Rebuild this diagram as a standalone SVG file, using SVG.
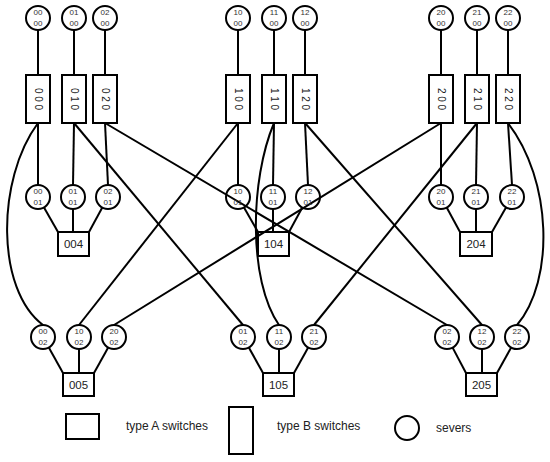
<svg xmlns="http://www.w3.org/2000/svg" width="550" height="462" viewBox="0 0 550 462">
<style>
.srv{fill:none;stroke:#000;stroke-width:2}
.sw{fill:#fff;stroke:#000;stroke-width:2}
.c{fill:none;stroke:#000;stroke-width:2}
.st{font-family:"Liberation Sans",Arial,sans-serif;font-size:8px;fill:#333;text-anchor:middle}
.bt{font-family:"Liberation Sans",Arial,sans-serif;font-size:10px;fill:#222;text-anchor:middle}
.at{font-family:"Liberation Sans",Arial,sans-serif;font-size:11.5px;fill:#222;text-anchor:middle}
.lt{font-family:"Liberation Sans",Arial,sans-serif;font-size:12px;fill:#222}
</style>
<rect width="550" height="462" fill="#fff"/>
<g id="connectors" class="c">
<!-- top servers to B switches -->
<line x1="38" y1="30" x2="38" y2="75"/>
<line x1="74" y1="30" x2="74" y2="75"/>
<line x1="105" y1="30" x2="105" y2="75"/>
<line x1="238" y1="30" x2="238" y2="75"/>
<line x1="274" y1="30" x2="274" y2="75"/>
<line x1="305" y1="30" x2="305" y2="75"/>
<line x1="441" y1="30" x2="441" y2="75"/>
<line x1="477" y1="30" x2="477" y2="75"/>
<line x1="508" y1="30" x2="508" y2="75"/>
<!-- B switches to mid servers -->
<line x1="38" y1="123" x2="38" y2="185"/>
<line x1="74" y1="123" x2="73" y2="185"/>
<line x1="105" y1="123" x2="108" y2="185"/>
<line x1="238" y1="123" x2="238" y2="185"/>
<line x1="274" y1="123" x2="273" y2="185"/>
<line x1="305" y1="123" x2="308" y2="185"/>
<line x1="441" y1="123" x2="441" y2="185"/>
<line x1="477" y1="123" x2="476" y2="185"/>
<line x1="508" y1="123" x2="512" y2="185"/>
<!-- B switches to bottom servers -->
<path d="M38,123 C-4,180 -4,290 43,325"/>
<line x1="74" y1="123" x2="243" y2="325"/>
<line x1="105" y1="123" x2="447" y2="325"/>
<line x1="238" y1="123" x2="79" y2="325"/>
<path d="M274,123 C250,180 248,280 279,325"/>
<line x1="305" y1="123" x2="482" y2="325"/>
<line x1="441" y1="123" x2="114" y2="325"/>
<line x1="477" y1="123" x2="314" y2="325"/>
<path d="M508,123 C552,180 555,280 517,325"/>
<!-- mid servers to A switches -->
<line x1="44" y1="207.4" x2="58" y2="232"/>
<line x1="73" y1="209" x2="73" y2="232"/>
<line x1="102.3" y1="207.5" x2="89" y2="232"/>
<line x1="244" y1="207.4" x2="258" y2="232"/>
<line x1="273" y1="209" x2="273" y2="232"/>
<line x1="302.3" y1="207.5" x2="289" y2="232"/>
<line x1="446.7" y1="207.5" x2="460" y2="232"/>
<line x1="476" y1="209" x2="476" y2="232"/>
<line x1="506" y1="207.4" x2="492" y2="232"/>
<!-- bottom servers to A switches -->
<line x1="48.8" y1="347.5" x2="63" y2="373"/>
<line x1="79" y1="349" x2="79" y2="373"/>
<line x1="108.2" y1="347.5" x2="94" y2="373"/>
<line x1="248.8" y1="347.5" x2="263" y2="373"/>
<line x1="279" y1="349" x2="279" y2="373"/>
<line x1="308.2" y1="347.5" x2="294" y2="373"/>
<line x1="452.6" y1="347.6" x2="466" y2="373"/>
<line x1="482" y1="349" x2="482" y2="373"/>
<line x1="511.2" y1="347.5" x2="497" y2="373"/>
</g>
<!-- top servers -->
<g id="s0000"><circle class="srv" cx="38" cy="18" r="12"/><text class="st" x="38" y="15">00</text><text class="st" x="38" y="26">00</text></g>
<g id="s0100"><circle class="srv" cx="74" cy="18" r="12"/><text class="st" x="74" y="15">01</text><text class="st" x="74" y="26">00</text></g>
<g id="s0200"><circle class="srv" cx="105" cy="18" r="12"/><text class="st" x="105" y="15">02</text><text class="st" x="105" y="26">00</text></g>
<g id="s1000"><circle class="srv" cx="238" cy="18" r="12"/><text class="st" x="238" y="15">10</text><text class="st" x="238" y="26">00</text></g>
<g id="s1100"><circle class="srv" cx="274" cy="18" r="12"/><text class="st" x="274" y="15">11</text><text class="st" x="274" y="26">00</text></g>
<g id="s1200"><circle class="srv" cx="305" cy="18" r="12"/><text class="st" x="305" y="15">12</text><text class="st" x="305" y="26">00</text></g>
<g id="s2000"><circle class="srv" cx="441" cy="18" r="12"/><text class="st" x="441" y="15">20</text><text class="st" x="441" y="26">00</text></g>
<g id="s2100"><circle class="srv" cx="477" cy="18" r="12"/><text class="st" x="477" y="15">21</text><text class="st" x="477" y="26">00</text></g>
<g id="s2200"><circle class="srv" cx="508" cy="18" r="12"/><text class="st" x="508" y="15">22</text><text class="st" x="508" y="26">00</text></g>
<!-- type B switches -->
<g id="b000"><rect class="sw" x="26" y="75" width="24" height="48"/><text class="bt" transform="translate(38,99) rotate(90)" y="3.5">0 0 0</text></g>
<g id="b010"><rect class="sw" x="62" y="75" width="24" height="48"/><text class="bt" transform="translate(74,99) rotate(90)" y="3.5">0 1 0</text></g>
<g id="b020"><rect class="sw" x="93" y="75" width="24" height="48"/><text class="bt" transform="translate(105,99) rotate(90)" y="3.5">0 2 0</text></g>
<g id="b100"><rect class="sw" x="226" y="75" width="24" height="48"/><text class="bt" transform="translate(238,99) rotate(90)" y="3.5">1 0 0</text></g>
<g id="b110"><rect class="sw" x="262" y="75" width="24" height="48"/><text class="bt" transform="translate(274,99) rotate(90)" y="3.5">1 1 0</text></g>
<g id="b120"><rect class="sw" x="293" y="75" width="24" height="48"/><text class="bt" transform="translate(305,99) rotate(90)" y="3.5">1 2 0</text></g>
<g id="b200"><rect class="sw" x="429" y="75" width="24" height="48"/><text class="bt" transform="translate(441,99) rotate(90)" y="3.5">2 0 0</text></g>
<g id="b210"><rect class="sw" x="465" y="75" width="24" height="48"/><text class="bt" transform="translate(477,99) rotate(90)" y="3.5">2 1 0</text></g>
<g id="b220"><rect class="sw" x="496" y="75" width="24" height="48"/><text class="bt" transform="translate(508,99) rotate(90)" y="3.5">2 2 0</text></g>
<!-- mid servers -->
<g id="s0001"><circle class="srv" cx="38" cy="197" r="12"/><text class="st" x="38" y="194">00</text><text class="st" x="38" y="205">01</text></g>
<g id="s0101"><circle class="srv" cx="73" cy="197" r="12"/><text class="st" x="73" y="194">01</text><text class="st" x="73" y="205">01</text></g>
<g id="s0201"><circle class="srv" cx="108" cy="197" r="12"/><text class="st" x="108" y="194">02</text><text class="st" x="108" y="205">01</text></g>
<g id="s1001"><circle class="srv" cx="238" cy="197" r="12"/><text class="st" x="238" y="194">10</text><text class="st" x="238" y="205">01</text></g>
<g id="s1101"><circle class="srv" cx="273" cy="197" r="12"/><text class="st" x="273" y="194">11</text><text class="st" x="273" y="205">01</text></g>
<g id="s1201"><circle class="srv" cx="308" cy="197" r="12"/><text class="st" x="308" y="194">12</text><text class="st" x="308" y="205">01</text></g>
<g id="s2001"><circle class="srv" cx="441" cy="197" r="12"/><text class="st" x="441" y="194">20</text><text class="st" x="441" y="205">01</text></g>
<g id="s2101"><circle class="srv" cx="476" cy="197" r="12"/><text class="st" x="476" y="194">21</text><text class="st" x="476" y="205">01</text></g>
<g id="s2201"><circle class="srv" cx="512" cy="197" r="12"/><text class="st" x="512" y="194">22</text><text class="st" x="512" y="205">01</text></g>
<!-- type A switches (mid) -->
<g id="a004"><rect class="sw" x="58" y="232" width="31" height="24"/><text class="at" x="73.5" y="248">004</text></g>
<g id="a104"><rect class="sw" x="258" y="232" width="31" height="24" fill-opacity="0"/><text class="at" x="273.5" y="248">104</text></g>
<g id="a204"><rect class="sw" x="460" y="232" width="32" height="24"/><text class="at" x="476" y="248">204</text></g>
<!-- bottom servers -->
<g id="s0002"><circle class="srv" cx="43" cy="337" r="12"/><text class="st" x="43" y="334">00</text><text class="st" x="43" y="345">02</text></g>
<g id="s1002"><circle class="srv" cx="79" cy="337" r="12"/><text class="st" x="79" y="334">10</text><text class="st" x="79" y="345">02</text></g>
<g id="s2002"><circle class="srv" cx="114" cy="337" r="12"/><text class="st" x="114" y="334">20</text><text class="st" x="114" y="345">02</text></g>
<g id="s0102"><circle class="srv" cx="243" cy="337" r="12"/><text class="st" x="243" y="334">01</text><text class="st" x="243" y="345">02</text></g>
<g id="s1102"><circle class="srv" cx="279" cy="337" r="12"/><text class="st" x="279" y="334">11</text><text class="st" x="279" y="345">02</text></g>
<g id="s2102"><circle class="srv" cx="314" cy="337" r="12"/><text class="st" x="314" y="334">21</text><text class="st" x="314" y="345">02</text></g>
<g id="s0202"><circle class="srv" cx="447" cy="337" r="12"/><text class="st" x="447" y="334">02</text><text class="st" x="447" y="345">02</text></g>
<g id="s1202"><circle class="srv" cx="482" cy="337" r="12"/><text class="st" x="482" y="334">12</text><text class="st" x="482" y="345">02</text></g>
<g id="s2202"><circle class="srv" cx="517" cy="337" r="12"/><text class="st" x="517" y="334">22</text><text class="st" x="517" y="345">02</text></g>
<!-- type A switches (bottom) -->
<g id="a005"><rect class="sw" x="63" y="373" width="31" height="23"/><text class="at" x="78.5" y="389">005</text></g>
<g id="a105"><rect class="sw" x="263" y="373" width="31" height="23"/><text class="at" x="278.5" y="389">105</text></g>
<g id="a205"><rect class="sw" x="466" y="373" width="31" height="23"/><text class="at" x="481.5" y="389">205</text></g>
<!-- legend -->
<g id="legend">
<rect class="sw" x="66" y="414" width="33" height="25"/>
<text class="lt" x="126" y="430">type A switches</text>
<rect class="sw" x="229" y="407" width="24" height="47"/>
<text class="lt" x="277" y="430">type B switches</text>
<circle class="srv" cx="407" cy="428" r="12"/>
<text class="lt" x="436" y="432">severs</text>
</g>
</svg>
